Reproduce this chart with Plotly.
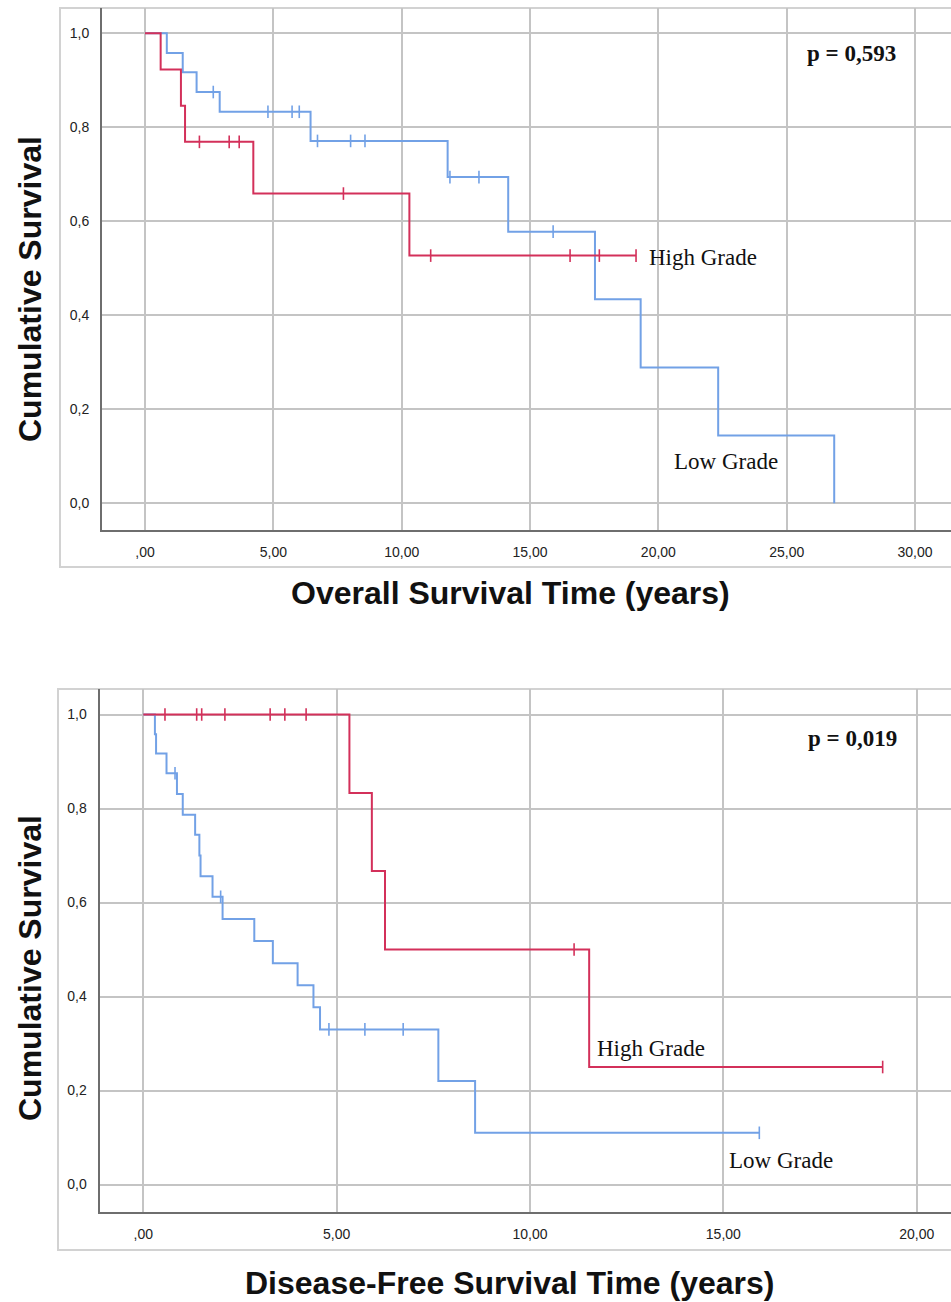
import plotly.graph_objects as go

# ---------------- data ----------------
# Overall survival, Low Grade
os_low_t = [0.85, 1.47, 2.01, 2.91, 6.45, 11.79, 14.15, 17.53, 19.31, 22.33, 26.85]
os_low_s = [0.958, 0.917, 0.875, 0.833, 0.771, 0.694, 0.578, 0.434, 0.289, 0.144, 0.0]
os_low_cens = [2.66, 4.79, 5.73, 6.01, 6.72, 8.01, 8.57, 11.88, 13.01, 15.90]
# Overall survival, High Grade
os_high_t = [0.61, 1.40, 1.56, 4.22, 10.30]
os_high_s = [0.923, 0.846, 0.769, 0.659, 0.527]
os_high_cens = [2.12, 3.28, 3.67, 7.73, 11.13, 16.56, 17.70, 19.13]

# Disease-free survival, Low Grade
dfs_low_t = [0.30, 0.33, 0.60, 0.87, 1.02, 1.34, 1.45, 1.48, 1.79, 2.05, 2.87,
             3.35, 3.99, 4.40, 4.57, 7.63, 8.58]
dfs_low_s = [0.958, 0.917, 0.875, 0.831, 0.787, 0.744, 0.700, 0.656, 0.612, 0.565,
             0.518, 0.471, 0.424, 0.377, 0.330, 0.220, 0.110]
dfs_low_cens = [0.82, 2.00, 4.80, 5.73, 6.72, 15.93]
# Disease-free survival, High Grade
dfs_high_t = [5.33, 5.91, 6.25, 11.53]
dfs_high_s = [0.833, 0.667, 0.500, 0.250]
dfs_high_cens = [0.56, 1.38, 1.51, 2.11, 3.28, 3.66, 4.21, 11.14, 19.12]

os_xticks = [0, 5, 10, 15, 20, 25, 30]
os_xticktext = [",00", "5,00", "10,00", "15,00", "20,00", "25,00", "30,00"]
dfs_xticks = [0, 5, 10, 15, 20]
dfs_xticktext = [",00", "5,00", "10,00", "15,00", "20,00"]
yticks = [0.0, 0.2, 0.4, 0.6, 0.8, 1.0]
yticktext = ["0,0", "0,2", "0,4", "0,6", "0,8", "1,0"]

p_os = "p = 0,593"
p_dfs = "p = 0,019"

RED = "#d3305a"
BLUE = "#72a1e6"


def km_path(t, s, cens):
    xs = [0.0] + list(t)
    ys = [1.0] + list(s)
    end = max([t[-1]] + list(cens))
    if end > xs[-1]:
        xs.append(end)
        ys.append(ys[-1])
    return xs, ys


def surv_at(t, s, c):
    v = 1.0
    for ti, si in zip(t, s):
        if ti <= c:
            v = si
    return v


fig = go.Figure()


def add_group(t, s, cens, color, xa, ya):
    xs, ys = km_path(t, s, cens)
    fig.add_trace(go.Scatter(x=xs, y=ys, mode="lines", line=dict(color=color, width=2, shape="hv"),
                             xaxis=xa, yaxis=ya, showlegend=False, hoverinfo="skip"))
    fig.add_trace(go.Scatter(x=cens, y=[surv_at(t, s, c) for c in cens], mode="markers",
                             marker=dict(symbol="line-ns", size=9, line=dict(color=color, width=1.6)),
                             xaxis=xa, yaxis=ya, showlegend=False, hoverinfo="skip"))


add_group(os_low_t, os_low_s, os_low_cens, BLUE, "x", "y")
add_group(os_high_t, os_high_s, os_high_cens, RED, "x", "y")
add_group(dfs_low_t, dfs_low_s, dfs_low_cens, BLUE, "x2", "y2")
add_group(dfs_high_t, dfs_high_s, dfs_high_cens, RED, "x2", "y2")

W, H = 951, 1302
GRID = "#c4c4c4"
AXL = "#6e6e6e"
tickfont = dict(family="Liberation Sans, Arial", size=14, color="#222222")

common_x = dict(showgrid=True, gridcolor=GRID, gridwidth=1.6, zeroline=False, showline=True,
                linecolor=AXL, linewidth=2, ticks="", tickfont=tickfont, ticklabelstandoff=8)
common_y = dict(showgrid=True, gridcolor=GRID, gridwidth=1.6, zeroline=False, showline=True,
                linecolor=AXL, linewidth=2, ticks="", tickfont=tickfont, ticklabelstandoff=8,
                tickvals=yticks, ticktext=yticktext)

fig.update_layout(
    width=W, height=H, margin=dict(l=0, r=0, t=0, b=0),
    paper_bgcolor="white", plot_bgcolor="white",
    xaxis=dict(common_x, domain=[102 / W, 1.0], range=[-1.675, 31.40], anchor="y",
               tickvals=os_xticks, ticktext=os_xticktext),
    yaxis=dict(common_y, domain=[1 - 530 / H, 1 - 8 / H], range=[-0.0568, 1.0538], anchor="x"),
    xaxis2=dict(common_x, domain=[99.5 / W, 1.0], range=[-1.133, 20.887], anchor="y2",
                tickvals=dfs_xticks, ticktext=dfs_xticktext),
    yaxis2=dict(common_y, domain=[1 - 1212 / H, 1 - 689 / H], range=[-0.0585, 1.0543], anchor="x2"),
)

# outer frames
fig.add_shape(type="rect", xref="paper", yref="paper", x0=60 / W, x1=1.02, y0=1 - 567 / H, y1=1 - 8 / H,
              line=dict(color="#d2d2d2", width=2), layer="below")
fig.add_shape(type="rect", xref="paper", yref="paper", x0=58 / W, x1=1.02, y0=1 - 1250 / H, y1=1 - 689 / H,
              line=dict(color="#d2d2d2", width=2), layer="below")

title_font = dict(family="Liberation Sans, Arial", size=32, color="#111111")
serif = dict(family="Liberation Serif, Times New Roman", size=23, color="#111111")
serif_b = dict(family="Liberation Serif, Times New Roman", size=23, color="#111111")

ann = [
    dict(text="<b>Cumulative Survival</b>", xref="paper", yref="paper", x=30 / W, y=1 - 289 / H,
         textangle=-90, showarrow=False, font=title_font, xanchor="center", yanchor="middle"),
    dict(text="<b>Cumulative Survival</b>", xref="paper", yref="paper", x=30 / W, y=1 - 968 / H,
         textangle=-90, showarrow=False, font=title_font, xanchor="center", yanchor="middle"),
    dict(text="<b>Overall Survival Time (years)</b>", xref="paper", yref="paper", x=510 / W, y=1 - 593 / H,
         showarrow=False, font=title_font, xanchor="center", yanchor="middle"),
    dict(text="<b>Disease-Free Survival Time (years)</b>", xref="paper", yref="paper", x=509 / W,
         y=1 - 1283 / H, showarrow=False, font=title_font, xanchor="center", yanchor="middle"),
    dict(text="<b>" + p_os + "</b>", xref="x", yref="y", x=27.54, y=0.958, showarrow=False,
         font=serif_b, xanchor="center", yanchor="middle"),
    dict(text="<b>" + p_dfs + "</b>", xref="x2", yref="y2", x=18.33, y=0.948, showarrow=False,
         font=serif_b, xanchor="center", yanchor="middle"),
    dict(text="High Grade", xref="x", yref="y", x=19.56, y=0.524, showarrow=False, font=serif,
         xanchor="left", yanchor="middle"),
    dict(text="Low Grade", xref="x", yref="y", x=20.53, y=0.090, showarrow=False, font=serif,
         xanchor="left", yanchor="middle"),
    dict(text="High Grade", xref="x2", yref="y2", x=11.68, y=0.290, showarrow=False, font=serif,
         xanchor="left", yanchor="middle"),
    dict(text="Low Grade", xref="x2", yref="y2", x=15.09, y=0.052, showarrow=False, font=serif,
         xanchor="left", yanchor="middle"),
]
fig.update_layout(annotations=ann)

fig.write_html("out.html", config={"displayModeBar": False},
               post_script="document.body.style.margin='0';document.body.style.padding='0';"
                           "document.documentElement.style.overflow='hidden';")
